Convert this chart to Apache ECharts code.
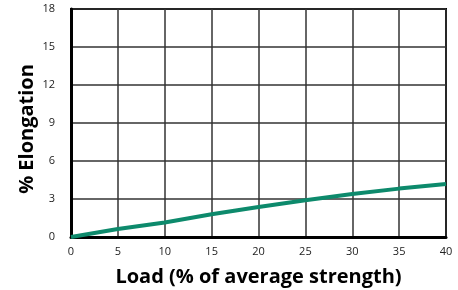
<!DOCTYPE html>
<html><head><meta charset="utf-8">
<script src="https://cdn.jsdelivr.net/npm/echarts@6/dist/echarts.min.js"></script>
<style>html,body{margin:0;padding:0;background:#fff}#c{width:458px;height:290px}</style>
</head><body><div id="c"></div>
<script>
const loads = [0, 5, 10, 15, 20, 25, 30, 35, 40];
const elongation = [0, 0.63, 1.15, 1.8, 2.37, 2.9, 3.4, 3.82, 4.18];
const xTitle = 'Load (% of average strength)';
const yTitle = '% Elongation';

const chart = echarts.init(document.getElementById('c'), null, {renderer: 'canvas'});
chart.setOption({
  animation: false,
  backgroundColor: '#fff',
  grid: {left: 71, right: 12, top: 9, bottom: 53, outerBoundsMode: 'none', containLabel: false, show: true, borderColor: '#000', borderWidth: 2, backgroundColor: 'transparent'},
  xAxis: {
    type: 'value', min: 0, max: 40, interval: 5,
    name: xTitle, nameLocation: 'middle', nameGap: 30, nameMoveOverlap: false,
    nameTextStyle: {fontFamily: 'Open Sans', fontWeight: 'bolder', fontSize: 20, color: '#000'},
    axisLine: {show: true, onZero: false, lineStyle: {color: '#000', width: 3}},
    axisTick: {show: false},
    axisLabel: {fontFamily: 'Open Sans', fontSize: 11, color: '#222', margin: 9},
    splitLine: {show: true, lineStyle: {color: '#333', width: 1.5}}
  },
  yAxis: {
    type: 'value', min: 0, max: 18, interval: 3,
    name: yTitle, nameLocation: 'middle', nameGap: 34, nameRotate: 90, nameMoveOverlap: false,
    nameTextStyle: {fontFamily: 'Open Sans', fontWeight: 'bolder', fontSize: 20, color: '#000', padding: [0, 12, 0, 0]},
    axisLine: {show: true, onZero: false, lineStyle: {color: '#000', width: 3}},
    axisTick: {show: false},
    axisLabel: {fontFamily: 'Open Sans', fontSize: 11, color: '#222', margin: 16},
    splitLine: {show: true, lineStyle: {color: '#333', width: 1.5}}
  },
  series: [{
    type: 'line',
    data: loads.map((x, i) => [x, elongation[i]]),
    showSymbol: false,
    smooth: false,
    lineStyle: {color: '#0d8a6c', width: 4},
    z: 5
  }]
});
</script></body></html>
